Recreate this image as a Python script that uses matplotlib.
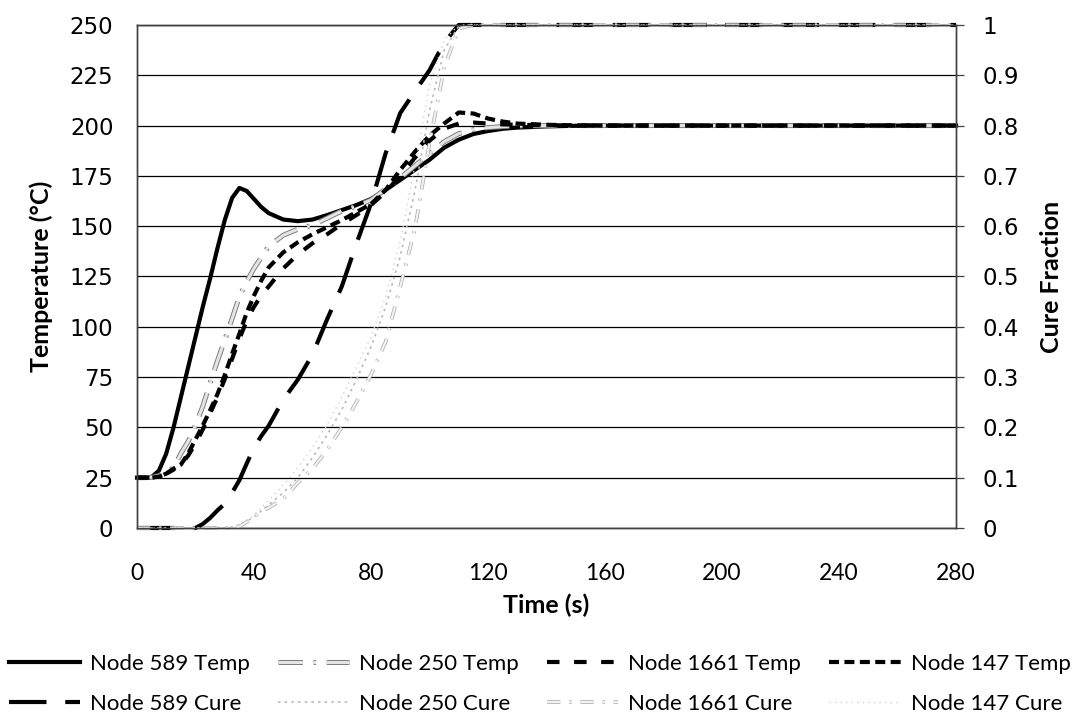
import matplotlib
matplotlib.use("Agg")
import matplotlib.pyplot as plt
import matplotlib.patheffects as pe
from matplotlib.font_manager import FontProperties
import numpy as np

# ---- data -----------------------------------------------------------------
time_s = [0, 2.5, 5, 7.5, 10, 12.5, 15, 17.5, 20, 22.5, 25, 27.5, 30, 32.5, 35,
          37.5, 40, 42.5, 45, 50, 55, 60, 65, 70, 75, 80, 85, 90, 95, 100, 105,
          110, 115, 120, 125, 130, 140, 150, 160, 180, 200, 240, 280]

node589_temp = [25, 25, 25.3, 28.5, 37, 50, 65, 80, 95, 110, 124, 139, 153, 164, 169,
                167.5, 163.5, 159.5, 156.5, 153.3, 152.5, 153.3, 155.5, 158, 160.5,
                163.5, 168, 173, 178, 183, 189, 193, 195.8, 197.3, 198.4, 199,
                199.6, 199.9, 200, 200, 200, 200, 200]
node250_temp = [25, 25, 25.2, 26, 27.5, 30, 37, 43, 51, 60.5, 72, 83, 93.5, 104, 115,
                122.5, 129, 134.5, 140, 145.5, 148.5, 150.5, 154, 157.5, 160,
                163, 168.5, 174, 180, 186, 192, 196, 198, 199, 199.5, 199.8,
                200, 200, 200, 200, 200, 200, 200]
node1661_temp = [25, 25, 25, 25.5, 27, 29, 31.5, 36, 42, 49, 57, 65, 74, 84, 94,
                 103, 110, 115.5, 120, 129, 136, 141.5, 146, 151, 155.5,
                 160.5, 167, 175, 184, 192.5, 198.5, 201, 201.5, 201, 200.6, 200.4,
                 200.2, 200, 200, 200, 200, 200, 200]
node147_temp = [25, 25, 25, 25.5, 27, 29.5, 31.5, 37, 44, 51, 58.5, 66.5, 76, 86.5, 96.5,
                107, 115.5, 123, 129.5, 137, 142, 146, 149.5, 153, 157,
                161, 168, 178, 187, 195, 201, 206.5, 206, 203.5, 202, 201,
                200.4, 200.1, 200, 200, 200, 200, 200]

node589_cure = [0, 0, 0, 0, 0, 0, 0, 0, 0, 0.008, 0.02, 0.035, 0.048, 0.07, 0.095,
                0.128, 0.16, 0.183, 0.203, 0.255, 0.295, 0.345, 0.415, 0.48, 0.565,
                0.645, 0.745, 0.825, 0.868, 0.91, 0.965, 1.0, 1.0, 1.0, 1.0, 1.0,
                1, 1, 1, 1, 1, 1, 1]
node250_cure = [0, 0, 0, 0, 0, 0, 0, 0, 0, 0, 0, 0, 0, 0.002, 0.006,
                0.013, 0.022, 0.034, 0.046, 0.07, 0.1, 0.14, 0.185, 0.235, 0.295,
                0.36, 0.44, 0.54, 0.67, 0.83, 0.95, 0.998, 1, 1, 1, 1,
                1, 1, 1, 1, 1, 1, 1]
node1661_cure = [0, 0, 0, 0, 0, 0, 0, 0, 0, 0, 0, 0, 0, 0, 0.003,
                 0.012, 0.022, 0.033, 0.04, 0.058, 0.09, 0.118, 0.155, 0.2, 0.25,
                 0.305, 0.37, 0.48, 0.595, 0.765, 0.915, 0.993, 1, 1, 1, 1,
                 1, 1, 1, 1, 1, 1, 1]
node147_cure = [0, 0, 0, 0, 0, 0, 0, 0, 0, 0, 0, 0, 0, 0.002, 0.006,
                0.014, 0.025, 0.04, 0.055, 0.085, 0.12, 0.16, 0.205, 0.26, 0.32,
                0.38, 0.46, 0.57, 0.72, 0.88, 0.97, 1.0, 1, 1, 1, 1,
                1, 1, 1, 1, 1, 1, 1]

x_ticks = [0, 40, 80, 120, 160, 200, 240, 280]
temp_ticks = list(range(0, 251, 25))
cure_ticks = [0, 0.1, 0.2, 0.3, 0.4, 0.5, 0.6, 0.7, 0.8, 0.9, 1.0]
cure_tick_labels = ["0", "0.1", "0.2", "0.3", "0.4", "0.5", "0.6", "0.7", "0.8", "0.9", "1"]

# ---- figure ---------------------------------------------------------------
plt.rcParams["font.family"] = ["DejaVu Sans"]
label_font = FontProperties(family="Lato", weight="bold", size=18)
xtick_font = FontProperties(family="Lato", size=16.5)
legend_font = FontProperties(family="Lato", size=16)

fig = plt.figure(figsize=(10.77, 7.2), dpi=100)
ax = fig.add_axes([0.1272, 0.2667, 0.7605, 0.6986])
ax2 = ax.twinx()

hatched_grey = [pe.Stroke(linewidth=3.6, foreground="#7c7c7c"), pe.Normal()]
pale_outline = [pe.Stroke(linewidth=2.6, foreground="#a8a8a8"), pe.Normal()]

h589t, = ax.plot(time_s, node589_temp, color="black", lw=3.0,
                 label="Node 589 Temp", clip_on=False)
h250t, = ax.plot(time_s, node250_temp, color="#e4e4e4", lw=2.2,
                 dashes=(8, 3.5, 0.8, 3.5), path_effects=hatched_grey,
                 label="Node 250 Temp", clip_on=False)
h1661t, = ax.plot(time_s, node1661_temp, color="black", lw=3.0,
                  dashes=(3, 3.5), label="Node 1661 Temp", clip_on=False)
h147t, = ax.plot(time_s, node147_temp, color="black", lw=3.0,
                 dashes=(2.4, 1.3), label="Node 147 Temp", clip_on=False)

h589c, = ax2.plot(time_s, node589_cure, color="black", lw=3.0,
                  dashes=(9, 4.5), label="Node 589 Cure", clip_on=False)
h250c, = ax2.plot(time_s, node250_cure, color="#b8b8b8", lw=1.2,
                  dashes=(1.5, 2.5), label="Node 250 Cure", clip_on=False)
h1661c, = ax2.plot(time_s, node1661_cure, color="#f2f2f2", lw=1.6,
                   dashes=(6, 4, 1, 4), path_effects=pale_outline,
                   label="Node 1661 Cure", clip_on=False)
h147c, = ax2.plot(time_s, node147_cure, color="#d2d2d2", lw=1.0,
                  dashes=(1, 3), label="Node 147 Cure", clip_on=False)

# primary axis: temperature
ax.set_xlim(0, 280)
ax.set_ylim(0, 250)
ax.set_xticks(x_ticks)
ax.set_xticklabels([str(v) for v in x_ticks], fontproperties=xtick_font)
ax.set_yticks(temp_ticks)
ax.set_yticklabels([str(v) for v in temp_ticks], fontsize=16.5)
ax.grid(axis="y", color="black", lw=0.9)
ax.set_axisbelow(True)
ax.tick_params(axis="x", length=0, pad=25)
ax.tick_params(axis="y", length=0, pad=17)
ax.set_xlabel("Time (s)", fontproperties=label_font)
ax.set_ylabel("Temperature (°C)", fontproperties=label_font)
ax.xaxis.set_label_coords(0.5, -0.13)
ax.yaxis.set_label_coords(-0.102, 0.5)

# secondary axis: cure fraction
ax2.set_ylim(0, 1)
ax2.set_yticks(cure_ticks)
ax2.set_yticklabels(cure_tick_labels, fontsize=16.5)
ax2.tick_params(axis="y", length=6, width=0.9, pad=13, color="#404040")
ax2.set_ylabel("Cure Fraction", fontproperties=label_font)
ax2.yaxis.set_label_coords(1.102, 0.5)

for a in (ax, ax2):
    for sp in a.spines.values():
        sp.set_color("#404040")
        sp.set_linewidth(1.0)

handles = [h589t, h589c, h250t, h250c, h1661t, h1661c, h147t, h147c]
fig.legend(handles, [h.get_label() for h in handles], ncol=4, loc="lower left",
           bbox_to_anchor=(0.004, 0.002, 0.994, 0.12), mode="expand",
           frameon=False, prop=legend_font, handlelength=3.2,
           handletextpad=0.45, labelspacing=0.9, borderpad=0.2,
           borderaxespad=0)

fig.savefig("out.png", dpi=100)
